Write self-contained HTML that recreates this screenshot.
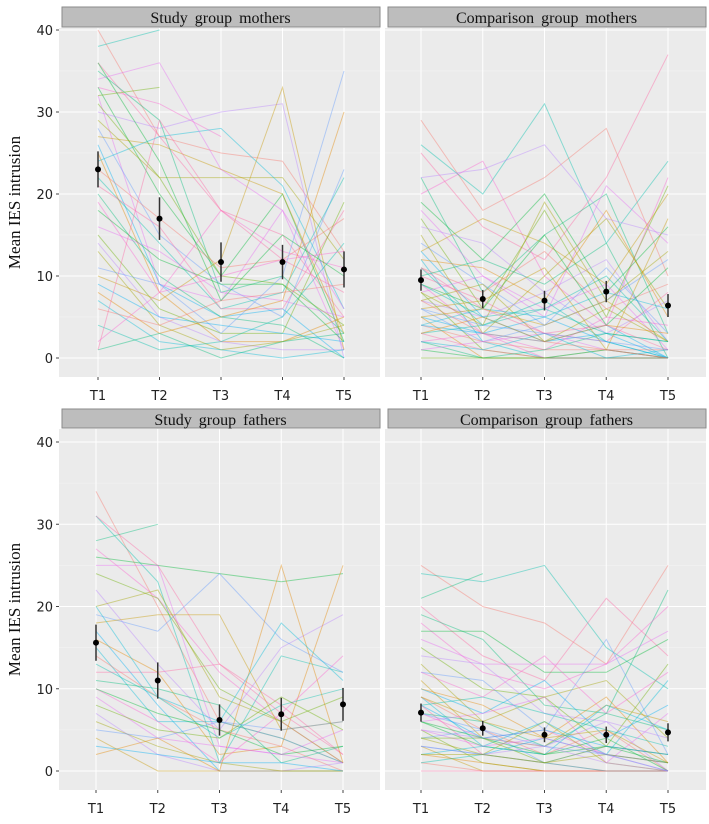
<!DOCTYPE html>
<html><head><meta charset="utf-8"><style>
body{margin:0;background:#fff;width:709px;height:824px;overflow:hidden}
svg{display:block}
</style></head><body>
<svg id="c" width="709" height="824" xmlns="http://www.w3.org/2000/svg"></svg>
<script>
const timepoints=["T1","T2","T3","T4","T5"];
const yTicks=[0,10,20,30,40];
const panelTitles=["Study group mothers","Comparison group mothers","Study group fathers","Comparison group fathers"];
const meansSGM=[23,17,11.7,11.7,10.8];
const errSGM=[2.2,2.6,2.4,2.1,2.2];
const meansCGM=[9.5,7.2,7,8.1,6.4];
const errCGM=[1.3,1.1,1.2,1.3,1.4];
const meansSGF=[15.6,11,6.2,6.9,8.1];
const errSGF=[2.2,2.2,1.9,2,2];
const meansCGF=[7.1,5.2,4.4,4.4,4.7];
const errCGF=[1.1,0.9,0.9,1,1.1];
const linesSGM=[[40,27,25,24,13],[38,40,null,null,null],[36,27,18,15,5],[35,29,8,10,3],[33,31,27,null,null],[33,20,10,20,2],[32,9,7,18,1],[31,22,10,9,4],[30,28,30,31,0],[29,22,22,22,12],[28,15,9,5,23],[27,26,23,20,3],[26,9,5,6,0],[25,8,2,2,5],[24,27,28,21,6],[23,17,11,12,17],[22,14,6,8,22],[21,16,6,6,18],[20,10,5,4,0],[19,8,18,13,11],[18,12,9,9,2],[16,13,8,7,5],[15,6,3,3,19],[14,5,2,1,1],[13,4,1,2,4],[11,9,3,10,35],[10,7,12,33,1],[9,5,4,3,2],[8,3,5,7,30],[7,2,1,0,1],[6,4,7,8,9],[4,1,2,5,14],[1,29,18,12,8],[1,3,0,2,3],[2,8,10,12,13],[36,24,7,15,10],[34,36,23,18,6],[32,33,null,null,null]];
const linesCGM=[[29,18,22,28,10],[26,20,31,14,24],[25,16,12,22,37],[22,8,15,20,3],[20,24,10,4,22],[19,12,20,8,16],[18,10,5,21,14],[17,6,18,5,21],[16,14,8,12,2],[15,3,10,17,6],[14,9,4,7,12],[13,17,14,9,20],[13,5,2,3,0],[12,11,7,18,5],[12,2,0,1,0],[11,8,13,6,9],[11,4,6,10,2],[10,7,3,2,8],[10,12,9,14,0],[9,3,1,5,4],[9,6,15,4,11],[8,10,6,9,1],[8,1,0,0,0],[7,5,8,3,7],[7,9,2,6,2],[6,2,4,11,3],[6,7,11,1,17],[5,3,2,4,0],[5,0,0,0,0],[4,6,5,8,6],[4,2,1,1,1],[3,4,7,2,0],[3,1,0,0,0],[2,0,1,3,2],[2,3,0,0,0],[1,0,0,0,0],[1,2,3,1,0],[0,0,0,1,0],[22,23,26,17,15],[8,4,19,7,13],[6,4,3,2,1],[5,6,4,7,2],[4,3,5,2,0],[3,5,2,4,3],[2,1,3,0,1],[7,3,2,1,0],[9,5,6,3,2],[11,6,3,4,1]];
const linesSGF=[[34,20,6,4,1],[31,23,1,14,12],[31,25,13,8,2],[28,30,null,null,null],[27,21,12,6,1],[26,25,24,23,24],[25,25,3,2,5],[24,21,10,6,9],[22,13,5,15,19],[20,22,9,6,1],[19,17,24,16,12],[18,19,19,5,6],[17,8,0,0,0],[16,12,2,3,25],[15,6,6,4,1],[14,9,5,3,0],[13,9,4,8,10],[12,12,13,7,2],[11,10,8,1,3],[10,6,1,7,14],[10,7,5,2,3],[9,4,3,2,1],[8,5,4,9,5],[7,2,0,0,1],[6,3,1,0,0],[5,4,6,5,6],[4,0,0,0,0],[3,2,1,1,0],[2,4,0,25,1],[20,9,6,18,11]];
const linesCGF=[[25,20,18,13,25],[24,23,25,15,10],[20,14,11,21,14],[19,16,8,7,22],[18,12,10,13,20],[17,17,12,12,16],[16,13,13,13,17],[15,10,9,3,13],[14,13,7,6,0],[13,6,9,11,4],[12,11,5,16,2],[11,4,3,8,6],[10,7,11,4,8],[10,8,4,9,1],[9,3,6,2,11],[9,5,2,5,0],[8,9,7,5,3],[8,2,1,0,0],[7,6,3,7,5],[7,4,5,2,1],[6,3,2,4,0],[6,7,9,1,7],[5,1,0,0,0],[5,4,3,6,4],[4,2,6,1,0],[4,5,1,3,2],[3,0,0,0,0],[3,2,4,2,1],[2,1,0,0,0],[2,3,2,8,5],[1,0,0,0,0],[1,2,1,0,0],[0,0,0,0,0],[21,24,null,null,null],[12,9,14,7,12],[6,4,2,3,1],[5,3,4,2,0],[4,4,1,3,2],[3,2,3,1,0],[2,2,1,2,1],[7,5,3,2,0],[9,6,4,5,1],[8,4,5,3,2]];
const panels=[
 {lines:linesSGM,means:meansSGM,err:errSGM,x0:59,x1:380,sy:7,py0:28,py1:377,t1:98,t5:344,y0:358,y40:30,yax:true},
 {lines:linesCGM,means:meansCGM,err:errCGM,x0:385,x1:706,sy:7,py0:28,py1:377,t1:421,t5:668,y0:358,y40:30,yax:false},
 {lines:linesSGF,means:meansSGF,err:errSGF,x0:59,x1:380,sy:409,py0:429,py1:790,t1:96,t5:343,y0:771,y40:442,yax:true},
 {lines:linesCGF,means:meansCGF,err:errCGF,x0:385,x1:706,sy:409,py0:429,py1:790,t1:421,t5:668,y0:771,y40:442,yax:false}
];
const NS="http://www.w3.org/2000/svg";
const svg=document.getElementById('c');
function mk(tag,attrs,parent){const e=document.createElementNS(NS,tag);for(const k in attrs)e.setAttribute(k,attrs[k]);(parent||svg).appendChild(e);return e;}
const pal=["#F8766D","#E58700","#C99800","#A3A500","#6BB100","#00BA38","#00BF7D","#00C0AF","#00BCD8","#00B0F6","#619CFF","#B983FF","#E76BF3","#FD61D1","#FF67A4"];
panels.forEach((p,pi)=>{
 const xs=i=>p.t1+(p.t5-p.t1)*i/4;
 const ys=v=>p.y0+(p.y40-p.y0)*v/40;
 const g=mk('g',{});
 
 
 const bg=mk('rect',{x:p.x0,y:p.py0,width:p.x1-p.x0,height:p.py1-p.py0,fill:'#ebebeb'},g);
 
 
 yTicks.forEach(t=>{mk('line',{x1:p.x0,x2:p.x1,y1:ys(t),y2:ys(t),stroke:'#fff','stroke-width':1},g);
  if(t<40)mk('line',{x1:p.x0,x2:p.x1,y1:ys(t+5),y2:ys(t+5),stroke:'#f4f4f4','stroke-width':0.5},g);});
 timepoints.forEach((t,i)=>{mk('line',{x1:xs(i),x2:xs(i),y1:p.py0,y2:p.py1,stroke:'#fff','stroke-width':1},g);
  mk('line',{x1:xs(i),x2:xs(i),y1:p.py1,y2:p.py1+3,stroke:'#444'},g);
  const tl=mk('text',{x:xs(i),y:p.py1+23,'text-anchor':'middle','font-family':'DejaVu Sans, sans-serif','font-size':13,fill:'#222'},g);
  tl.textContent=t;
  
  });
 if(p.yax){yTicks.forEach(t=>{mk('line',{x1:p.x0-3,x2:p.x0,y1:ys(t),y2:ys(t),stroke:'#444'},g);
  const yl=mk('text',{x:p.x0-6,y:ys(t)+5,'text-anchor':'end','font-family':'DejaVu Sans, sans-serif','font-size':13,fill:'#222'},g);
  yl.textContent=t;
  
  });
  const cy=(p.py0+p.py1)/2;
  const yt=mk('text',{x:20,y:cy,transform:'rotate(-90 20 '+cy+')','text-anchor':'middle','font-family':'Liberation Serif, serif','font-size':17,fill:'#111'},g);
  yt.textContent='Mean IES intrusion';
  
  }
 const st=mk('rect',{x:p.x0+3,y:p.sy,width:p.x1-p.x0-3,height:p.py0-p.sy-1,fill:'#bdbdbd',stroke:'#8a8a8a','stroke-width':1},g);
 
 
 const tt=mk('text',{x:(p.x0+p.x1)/2+1,y:p.sy+16,'text-anchor':'middle','font-family':'Liberation Serif, serif','font-size':16,fill:'#111','word-spacing':3},g);
 tt.textContent=panelTitles[pi];
 
 
 p.lines.forEach((ln,li)=>{let d='';let pen=false;
  ln.forEach((v,i)=>{if(v===null){pen=false;return;}d+=(pen?'L':'M')+xs(i).toFixed(1)+' '+ys(v).toFixed(1)+' ';pen=true;});
  const pl=mk('path',{d:d,fill:'none',stroke:pal[(li*7)%pal.length],'stroke-opacity':0.42,'stroke-width':1},g);
  
  });
 p.means.forEach((m,i)=>{
  const eb=mk('line',{x1:xs(i),x2:xs(i),y1:ys(m-p.err[i]),y2:ys(m+p.err[i]),stroke:'#333','stroke-width':1.5},g);
  
  
  const pt=mk('circle',{cx:xs(i),cy:ys(m),r:3,fill:'#000'},g);
  
  });
});
</script>
</body></html>
